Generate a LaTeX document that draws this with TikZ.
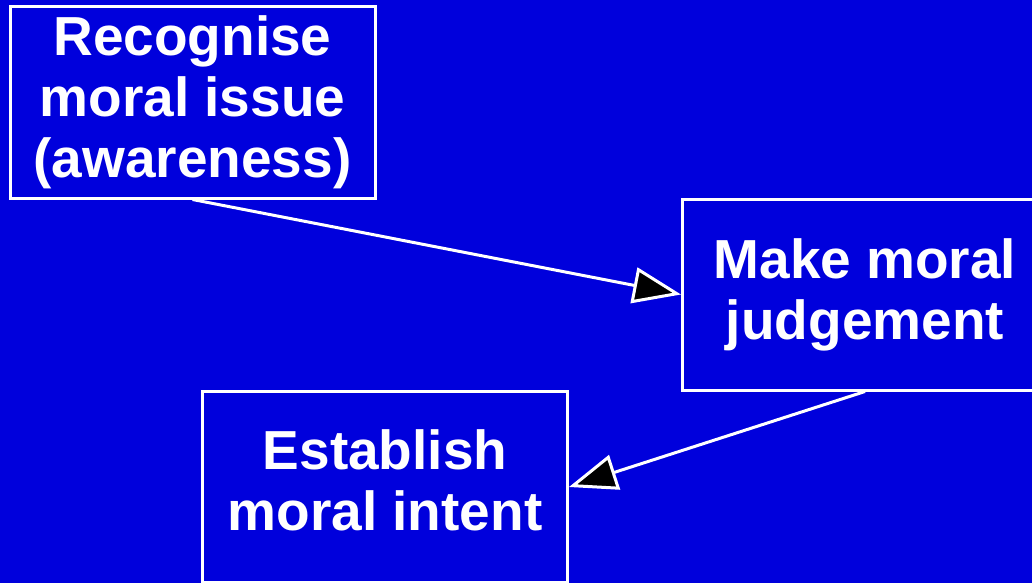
\documentclass[tikz,border=0pt]{standalone}
\usepackage{fontspec}
\setmainfont{Liberation Sans}
\usetikzlibrary{arrows.meta}
\definecolor{slideblue}{RGB}{0,0,220}

\tikzset{
  stage/.style={draw=white, line width=3pt, text=white, align=center,
    inner sep=0pt, minimum width=365pt, minimum height=191pt,
    font=\fontsize{55}{61}\selectfont\bfseries},
  link/.style={draw=white, line width=3pt,
    -{Triangle[length=48pt,width=36pt,fill=black]}}
}

\begin{document}
\begin{tikzpicture}[x=1pt,y=-1pt]

\fill[slideblue] (0,0) rectangle (1032,583);
\useasboundingbox (0,0) rectangle (1032,583);

\begin{scope}
\clip (0,0) rectangle (1032,583);
\node[stage] (aware) at (192.5,102.5) {Recognise\\moral issue\\(awareness)};
\node[stage] (judge) at (865,294.5) {Make moral\\judgement};
\node[stage, text depth=14pt] (intent) at (385,487) {Establish\\moral intent};

\draw[link] (aware.south) -- (judge.west);
\draw[link] (judge.south) -- (intent.east);
\end{scope}
\end{tikzpicture}
\end{document}
